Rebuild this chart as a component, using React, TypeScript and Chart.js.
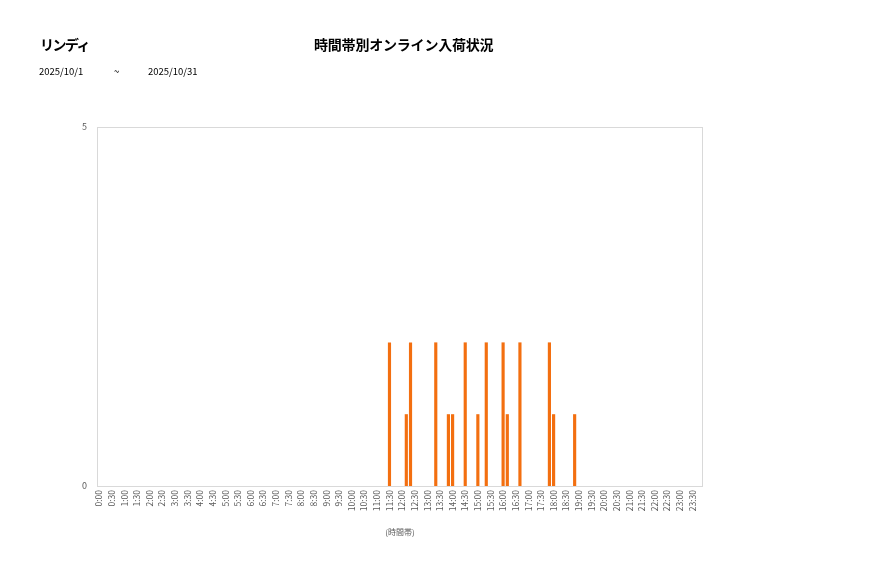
import { useEffect, useRef } from "react";
import { Chart, registerables, Plugin } from "chart.js";

Chart.register(...registerables);

const shopName = "リンディ";
const chartTitle = "時間帯別オンライン入荷状況";
const periodFrom = "2025/10/1";
const periodTo = "2025/10/31";
const axisTitle = "(時間帯)";

// 10-minute slots, 0:00 .. 23:50
const slots: string[] = [];
for (let h = 0; h < 24; h++) {
  for (let m = 0; m < 60; m += 10) {
    slots.push(`${h}:${m === 0 ? "00" : m}`);
  }
}

// arrivals per slot (only non-zero slots listed)
const activeSlots = ["11:30", "12:10", "12:20", "13:20", "13:50", "14:00", "14:30", "15:00", "15:20", "16:00", "16:10", "16:40", "17:50", "18:00", "18:50"];
const activeCounts = [2, 1, 2, 2, 1, 1, 2, 1, 2, 2, 1, 2, 2, 1, 1];

const yTicks = [0, 5];

const plotBorder: Plugin<"bar"> = {
  id: "plotBorder",
  beforeDatasetsDraw(chart) {
    const { ctx, chartArea } = chart;
    ctx.save();
    ctx.strokeStyle = "#d9d9d9";
    ctx.lineWidth = 1;
    ctx.strokeRect(chartArea.left + 0.5, chartArea.top + 0.5, chartArea.right - chartArea.left - 1, chartArea.bottom - chartArea.top);
    ctx.restore();
  },
};

const ArrivalChart = () => {
  const canvasRef = useRef<HTMLCanvasElement | null>(null);
  const chartRef = useRef<Chart | null>(null);

  useEffect(() => {
    if (!canvasRef.current) return;
    chartRef.current?.destroy();

    const values = slots.map((s) => {
      const i = activeSlots.indexOf(s);
      return i >= 0 ? activeCounts[i] : 0;
    });

    chartRef.current = new Chart(canvasRef.current, {
      type: "bar",
      data: {
        labels: slots,
        datasets: [
          {
            data: values,
            backgroundColor: "#f36f10",
            barPercentage: 0.75,
            categoryPercentage: 1,
          },
        ],
      },
      options: {
        animation: false,
        responsive: false,
        layout: { padding: { left: 0, top: 127, right: 174, bottom: 41 } },
        plugins: { legend: { display: false }, tooltip: { enabled: false } },
        scales: {
          x: {
            grid: { display: false, drawTicks: false },
            border: { display: false },
            ticks: {
              autoSkip: false,
              minRotation: 90,
              maxRotation: 90,
              padding: 4,
              color: "#595959",
              font: { family: "'Noto Sans CJK JP', 'Noto Sans'", size: 8.5 },
              callback: (_v, i) => (i % 3 === 0 ? slots[i] : ""),
            },
            title: {
              display: true,
              text: axisTitle,
              color: "#595959",
              padding: 0,
              font: { family: "'Noto Sans CJK JP', 'Noto Sans'", size: 8 },
            },
            afterFit: (scale) => {
              scale.height = 51;
            },
          },
          y: {
            min: 0,
            max: 5,
            grid: { display: false, drawTicks: false },
            border: { display: false },
            afterBuildTicks: (scale) => {
              scale.ticks = yTicks.map((v) => ({ value: v }));
            },
            ticks: {
              padding: 10,
              color: "#595959",
              font: { family: "'Noto Sans CJK JP', 'Noto Sans'", size: 9 },
            },
            afterFit: (scale) => {
              scale.width = 97;
            },
          },
        },
      },
      plugins: [plotBorder],
    });

    return () => {
      chartRef.current?.destroy();
      chartRef.current = null;
    };
  }, []);

  return <canvas ref={canvasRef} width={877} height={578} style={{ position: "absolute", left: 0, top: 0 }} />;
};

export default function App() {
  const jp = "'Noto Sans CJK JP', 'Noto Sans', sans-serif";
  return (
    <div style={{ position: "fixed", left: 0, top: 0, width: 877, height: 578, background: "#fff", fontFamily: jp, color: "#000" }}>
      <ArrivalChart />
      <div style={{ position: "absolute", left: 40, top: 34, fontSize: 14, fontWeight: 700, letterSpacing: -1.5 }}>{shopName}</div>
      <div style={{ position: "absolute", left: 314, top: 34, fontSize: 14, fontWeight: 700, letterSpacing: -0.2 }}>{chartTitle}</div>
      <div style={{ position: "absolute", left: 39, top: 64, fontSize: 9.5 }}>{periodFrom}</div>
      <div style={{ position: "absolute", left: 114, top: 64, fontSize: 9.5 }}>~</div>
      <div style={{ position: "absolute", left: 148, top: 64, fontSize: 9.5 }}>{periodTo}</div>
    </div>
  );
}
